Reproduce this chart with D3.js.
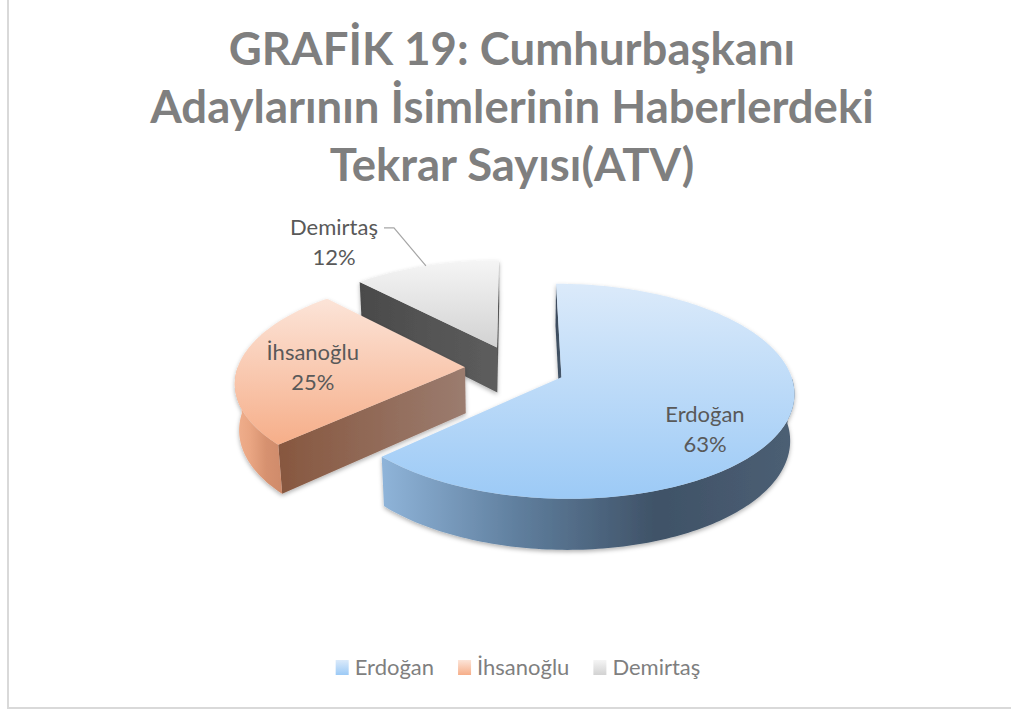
<!DOCTYPE html>
<html>
<head>
<meta charset="utf-8">
<script src="https://cdn.jsdelivr.net/npm/d3@7"></script>
<style>
  body { margin: 0; background: #fff; }
  svg { display: block; font-family: Lato, "Open Sans", sans-serif; }
</style>
</head>
<body>
<div id="chart"></div>
<script>
// data
const candidates = ["Erdoğan", "İhsanoğlu", "Demirtaş"];
const shares = [63, 25, 12];
const titleLines = ["GRAFİK 19: Cumhurbaşkanı", "Adaylarının İsimlerinin Haberlerdeki", "Tekrar Sayısı(ATV)"];

// colours: top gradient, outer wall gradient, radial face gradient
const topColors = [["#dbeafa", "#9ccaf6"], ["#fce4d8", "#f6ae89"], ["#f5f5f5", "#d2d2d2"]];
const wallColors = [["#8fb4d9", "#5f7e9d", "#3f5267", "#4c5f74"], ["#f1b08e", "#e9a582", "#d6916f", "#cf8b6b"], ["#9a9a9a", "#888", "#777", "#777"]];
const faceColors = [["#3a4a5c", "#46586c"], ["#87573f", "#9b7c6f"], ["#4a4a4a", "#5d5d5d"]];

const width = 1011, height = 711;

// 3d pie layout
const R = 227.5, cx = 515, cy = 368;
const tilt = 27 * Math.PI / 180, sinA = Math.sin(tilt), cosA = Math.cos(tilt);
const dist = 6.85, thick = 0.23, explode = 0.22;

function project(X, H, Z) {
  const depth = -H * sinA - Z * cosA;
  const s = dist / (dist + depth);
  const up = H * cosA - Z * sinA;
  return [cx + R * X * s, cy - R * up * s];
}

const svg = d3.select("#chart").append("svg")
  .attr("width", width).attr("height", height);

const defs = svg.append("defs");
const shadow = defs.append("filter").attr("id", "shadow")
  .attr("x", "-10%").attr("y", "-10%").attr("width", "120%").attr("height", "130%");
shadow.append("feDropShadow").attr("dx", 0).attr("dy", 2).attr("stdDeviation", 2)
  .attr("flood-color", "#000").attr("flood-opacity", 0.3);

function grad(id, vertical, stops) {
  const g = defs.append("linearGradient").attr("id", id)
    .attr("x1", 0).attr("y1", 0).attr("x2", vertical ? 0 : 1).attr("y2", vertical ? 1 : 0);
  stops.forEach((c, i) => g.append("stop").attr("offset", i / (stops.length - 1)).attr("stop-color", c));
}
candidates.forEach((c, i) => {
  grad("top" + i, true, topColors[i]);
  grad("wall" + i, false, wallColors[i]);
  grad("face" + i, false, faceColors[i]);
});

// chart border
svg.append("rect").attr("x", 8).attr("y", -10).attr("width", width + 20).attr("height", 718)
  .attr("fill", "none").attr("stroke", "#d9d9d9").attr("stroke-width", 2);

// title
svg.append("text")
  .attr("x", 512).attr("y", 65)
  .attr("text-anchor", "middle")
  .attr("font-size", 45.5).attr("font-weight", "bold").attr("fill", "#7f7f7f")
  .selectAll("tspan").data(titleLines).enter().append("tspan")
  .attr("x", 512).attr("dy", (d, i) => i ? 58 : 0)
  .text(d => d);

const pie = d3.pie().sort(null).startAngle(0).endAngle(2 * Math.PI);
const arcs = pie(shares).map((d, i) => {
  const mid = (d.startAngle + d.endAngle) / 2;
  d.i = i;
  d.ox = explode * Math.sin(mid);
  d.oz = -explode * Math.cos(mid);
  d.mid = mid;
  return d;
});

const line = d3.line();
function rimPt(d, a, H) {
  return project(d.ox + Math.sin(a), H, d.oz - Math.cos(a));
}
function arcPts(d, a0, a1, H) {
  const n = Math.max(2, Math.ceil(Math.abs(a1 - a0) / 0.02));
  return d3.range(n + 1).map(k => rimPt(d, a0 + (a1 - a0) * k / n, H));
}
function area(p) {
  let s = 0;
  p.forEach((q, k) => { const r = p[(k + 1) % p.length]; s += q[0] * r[1] - r[0] * q[1]; });
  return s;
}

// back to front
const order = arcs.slice().sort((a, b) => a.oz - b.oz);
order.forEach(d => {
  const g = svg.append("g").attr("filter", "url(#shadow)");
  const vt = project(d.ox, 0, d.oz), vb = project(d.ox, -thick, d.oz);

  // radial faces
  [[d.startAngle, false], [d.endAngle, true]].forEach(([a, isEnd]) => {
    const rt = rimPt(d, a, 0), rb = rimPt(d, a, -thick);
    const poly = isEnd ? [rt, vt, vb, rb] : [vt, rt, rb, vb];
    if (area(poly) < 0) {
      g.append("path").attr("d", line(poly) + "Z")
        .attr("fill", `url(#face${d.i})`);
    }
  });

  // outer wall, front half only
  const a0 = Math.max(d.startAngle, Math.PI / 2), a1 = Math.min(d.endAngle, 3 * Math.PI / 2);
  if (a1 > a0) {
    const pts = arcPts(d, a0, a1, 0).concat(arcPts(d, a1, a0, -thick));
    g.append("path").attr("d", line(pts) + "Z").attr("fill", `url(#wall${d.i})`);
  }

  // top face
  const top = [vt].concat(arcPts(d, d.startAngle, d.endAngle, 0));
  g.append("path").attr("d", line(top) + "Z").attr("fill", `url(#top${d.i})`);
});

// data labels: fraction along mid radius, angle shift, pixel nudge
const labelFont = 22;
const labelPos = [[0.74, 0.25, -6, -2], [0.7, 0, 6, 0], [1, 0, -92, -26]];
arcs.forEach(d => {
  const [r, da, dx, dy] = labelPos[d.i];
  const p = rimPt(d, d.mid + da, 0);
  const v = project(d.ox, 0, d.oz);
  const x = v[0] + (p[0] - v[0]) * r + dx, y = v[1] + (p[1] - v[1]) * r + dy;
  const t = svg.append("text").attr("text-anchor", "middle")
    .attr("font-size", labelFont).attr("fill", "#595959");
  t.append("tspan").attr("x", x).attr("y", y - 5).text(candidates[d.i]);
  t.append("tspan").attr("x", x).attr("y", y + 25).text(shares[d.i] + "%");
  if (d.i === 2) {
    const lp = rimPt(d, d.mid, 0);
    svg.append("path").attr("fill", "none").attr("stroke", "#a6a6a6").attr("stroke-width", 1.2)
      .attr("d", line([[x + 50, y - 12], [x + 60, y - 12], lp]));
  }
});

// legend
const legend = svg.append("g");
let lx = 0;
candidates.forEach((c, i) => {
  legend.append("rect").attr("x", lx).attr("y", 660).attr("width", 13).attr("height", 15)
    .attr("fill", `url(#top${i})`);
  const t = legend.append("text").attr("x", lx + 19).attr("y", 675)
    .attr("font-size", labelFont).attr("fill", "#7f7f7f").text(c);
  lx += 19 + t.node().getComputedTextLength() + 24;
});
lx -= 24;
legend.attr("transform", `translate(${518 - lx / 2},0)`);
</script>
</body>
</html>
